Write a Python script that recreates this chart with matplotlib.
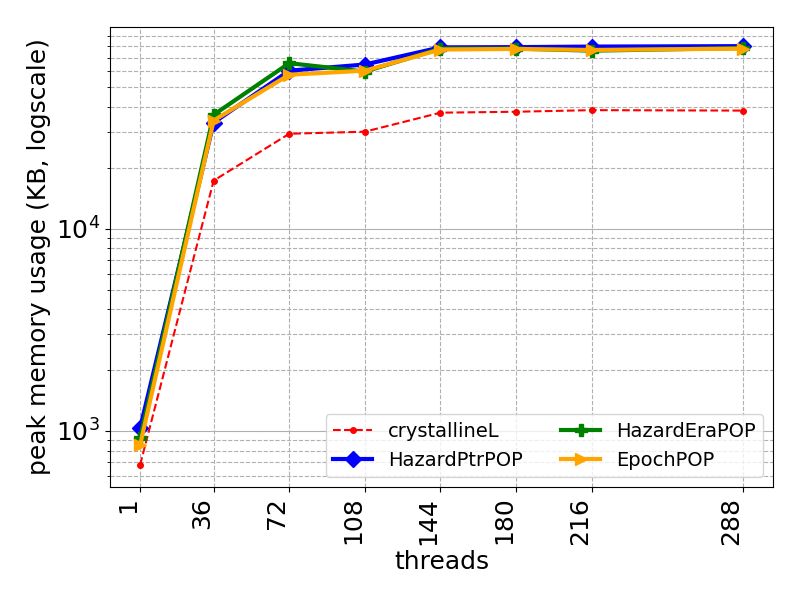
import matplotlib
matplotlib.use("Agg")
import matplotlib.pyplot as plt

threads = [1, 36, 72, 108, 144, 180, 216, 288]
crystallineL = [680, 17300, 29500, 30200, 37500, 37900, 38600, 38400]
hazard_ptr = [1035, 33500, 60500, 64900, 78900, 79100, 79600, 80000]
hazard_era = [923, 36600, 65900, 59900, 77800, 77800, 76000, 78300]
epoch = [853, 34300, 57800, 60500, 77000, 77500, 76600, 77800]

fig, ax = plt.subplots(figsize=(8, 6), dpi=100)
fig.subplots_adjust(left=110/800, right=773/800, top=1-27/600, bottom=1-487/600)
ax.plot(threads, crystallineL, 'r--', marker='.', markersize=8, linewidth=1.5, label='crystallineL')
ax.plot(threads, hazard_ptr, color='blue', marker='D', markersize=8, linewidth=3, label='HazardPtrPOP')
ax.plot(threads, hazard_era, color='green', marker='P', markersize=8, linewidth=3, label='HazardEraPOP')
ax.plot(threads, epoch, color='orange', marker='>', markersize=8, linewidth=3, label='EpochPOP')
ax.set_yscale('log')
ax.set_ylim(528, 99500)
ax.set_xticks(threads)
ax.set_xticklabels([str(t) for t in threads], rotation=90, ha='right', fontsize=18)
ax.tick_params(axis='y', labelsize=18)
ax.xaxis.grid(True, linestyle='--', color='#b0b0b0')
ax.yaxis.grid(True, which='major', linestyle='-', color='#b0b0b0')
ax.yaxis.grid(True, which='minor', linestyle='--', color='#b0b0b0')
ax.set_xlabel('threads', fontsize=18)
ax.set_ylabel('peak memory usage (KB, logscale)', fontsize=18)
ax.legend(loc='lower right', ncol=2, fontsize=14)
fig.savefig('out.png')
